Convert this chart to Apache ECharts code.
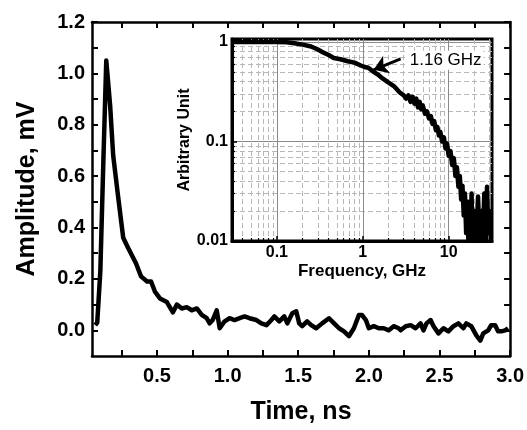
<!DOCTYPE html>
<html><head><meta charset="utf-8">
<script src="https://cdn.jsdelivr.net/npm/echarts@6/dist/echarts.min.js"></script>
<style>html,body{margin:0;padding:0;background:#fff}#c{width:527px;height:430px}</style>
</head><body><div id="c"></div>
<script>
// ---- main trace: time (ns) vs amplitude (mV)
const timeNs = [0.063,0.077,0.099,0.120,0.141,0.169,0.190,0.225,0.261,0.296,0.324,0.352,0.387,0.430,0.458,0.486,0.521,0.570,0.613,0.641,0.676,0.711,0.746,0.782,0.817,0.852,0.873,0.894,0.923,0.944,0.979,1.014,1.049,1.085,1.120,1.155,1.204,1.239,1.275,1.310,1.331,1.366,1.401,1.423,1.458,1.486,1.507,1.528,1.563,1.592,1.627,1.669,1.718,1.754,1.789,1.824,1.859,1.894,1.930,1.951,1.979,2.000,2.035,2.070,2.106,2.141,2.176,2.211,2.225,2.261,2.296,2.331,2.366,2.387,2.408,2.437,2.458,2.493,2.528,2.563,2.599,2.634,2.669,2.690,2.725,2.761,2.789,2.810,2.845,2.866,2.894,2.915,2.937,2.965,2.986];
const amplitude = [0.02,0.03,0.23,0.65,1.05,0.87,0.68,0.52,0.36,0.32,0.29,0.26,0.21,0.19,0.19,0.15,0.124,0.11,0.07,0.10,0.085,0.09,0.078,0.085,0.06,0.047,0.027,0.04,0.078,0.008,0.035,0.047,0.04,0.047,0.054,0.047,0.04,0.027,0.02,0.04,0.054,0.035,0.054,0.027,0.066,0.074,0.027,0.016,0.035,0.02,0.008,0.027,0.047,0.027,0.008,-0.004,-0.023,0.008,0.06,0.06,0.04,0.008,0.016,0.008,0.008,0.0,0.016,0.008,0.0,0.016,0.02,0.008,0.027,0.0,0.027,0.04,0.016,-0.012,0.008,-0.004,0.016,0.027,0.008,0.027,0.016,-0.02,-0.04,-0.012,0.0,0.02,0.02,-0.004,-0.004,0.0,0.008];
const timeLabelValues = [0.5,1.0,1.5,2.0,2.5,3.0];
const timeTickValues = [0.25,0.5,0.75,1.0,1.25,1.5,1.75,2.0,2.25,2.5,2.75,3.0];
const ampLabelValues = [0.0,0.2,0.4,0.6,0.8,1.0,1.2];
const ampTickValues = [0.0,0.1,0.2,0.3,0.4,0.5,0.6,0.7,0.8,0.9,1.0,1.1,1.2];

// ---- inset: frequency (GHz) vs normalised spectrum
const freqGHz = [0.03,0.05,0.08,0.1,0.13,0.16,0.2,0.25,0.3,0.35,0.4,0.46,0.55,0.67,0.8,0.95,1.05,1.16,1.3,1.5,1.7,2.0,2.3,2.7,3.0,3.2,3.4,3.6,3.8,4.0,4.2,4.4,4.6,4.8,5.0,5.3,5.6,5.9,6.2,6.5,6.8,7.1,7.4,7.7,8.0,8.4,8.8,9.2,9.6,10,10.5,11,11.5,12,12.5,13,13.5,14,14.5,15,15.5,16,16.5,17,17.5,18,18.5,19,20,21,22,23,24,25,26,27,28,29,30,31];
const spectrum = [1.0,1.0,1.0,1.0,0.99,0.97,0.94,0.9,0.84,0.78,0.74,0.69,0.67,0.64,0.62,0.58,0.56,0.55,0.51,0.47,0.43,0.39,0.36,0.31,0.29,0.27,0.29,0.25,0.28,0.24,0.27,0.22,0.25,0.21,0.23,0.19,0.2,0.17,0.18,0.15,0.16,0.13,0.14,0.115,0.125,0.1,0.11,0.085,0.095,0.072,0.08,0.058,0.068,0.045,0.055,0.035,0.045,0.026,0.036,0.018,0.03,0.012,0.025,0.01,0.022,0.01,0.03,0.01,0.02,0.01,0.028,0.01,0.02,0.01,0.03,0.01,0.035,0.012,0.02,0.01];
const freqMajor = [0.1,1,10];
const freqMinor = [0.03,0.04,0.05,0.06,0.07,0.08,0.09,0.2,0.3,0.4,0.5,0.6,0.7,0.8,0.9,2,3,4,5,6,7,8,9,20,30];
const specMajor = [0.01,0.1,1];
const specMinor = [0.02,0.03,0.04,0.05,0.06,0.07,0.08,0.09,0.2,0.3,0.4,0.5,0.6,0.7,0.8,0.9];
const annotationText = '1.16 GHz';
const arrowTail = [2.76,0.676];
const arrowTip = [1.34,0.525];
const annotationAnchor = [3.3,0.656];

const FONT = '"Liberation Sans", Arial, sans-serif';
const bold = (size) => ({fontFamily: FONT, fontWeight: 'bold', fontSize: size, color: '#000'});
const logFmt = v => v >= 1 ? String(Math.round(v)) : String(+Number(v).toPrecision(2));

const chart = echarts.init(document.getElementById('c'), null, {renderer: 'canvas'});
chart.setOption({
  animation: false,
  backgroundColor: '#fff',
  grid: [
    {left: 92, top: 22, right: 15, bottom: 73, show: false},
    {left: 232, top: 39, width: 260, height: 202, show: true, backgroundColor: '#fff', borderColor: '#000', borderWidth: 3}
  ],
  xAxis: [
    {gridIndex: 0, type: 'value', position: 'bottom', min: 0.04, max: 3.0,
     axisLine: {show: true, onZero: false, lineStyle: {color: '#000', width: 2.5}},
     axisTick: {show: true, inside: true, length: 6, customValues: timeTickValues, lineStyle: {color: '#000', width: 2}},
     axisLabel: {customValues: timeLabelValues, formatter: v => Number(v).toFixed(1), margin: 10, ...bold(20)},
     splitLine: {show: false},
     name: 'Time, ns', nameLocation: 'middle', nameGap: 44, nameTextStyle: bold(25)},
    {gridIndex: 0, type: 'value', position: 'top', min: 0.04, max: 3.0,
     axisLine: {show: true, onZero: false, lineStyle: {color: '#000', width: 2.5}},
     axisTick: {show: true, inside: true, length: 6, customValues: timeTickValues, lineStyle: {color: '#000', width: 2}},
     axisLabel: {show: false}, splitLine: {show: false}},
    {gridIndex: 1, type: 'log', position: 'bottom', min: 0.03, max: 32,
     axisLine: {show: true, onZero: false, lineStyle: {color: '#000', width: 3}},
     axisTick: {show: true, inside: true, length: 5, customValues: freqMajor, lineStyle: {color: '#000', width: 1.5}},
     axisLabel: {customValues: freqMajor, formatter: logFmt, margin: 4, ...bold(16)},
     splitLine: {show: true, lineStyle: {color: '#8a8a8a', width: 1, type: 'solid'}},
     name: 'Frequency, GHz', nameLocation: 'middle', nameGap: 22, nameTextStyle: bold(17)},
    {gridIndex: 1, type: 'log', position: 'bottom', min: 0.03, max: 32,
     axisLine: {show: false},
     axisTick: {show: true, inside: true, length: 3, customValues: freqMinor, lineStyle: {color: '#000', width: 1.2}},
     axisLabel: {show: false},
     splitLine: {show: true, lineStyle: {color: '#b8b8b8', width: 1, type: [5, 3]}}}
  ],
  yAxis: [
    {gridIndex: 0, type: 'value', position: 'left', min: -0.1, max: 1.2,
     axisLine: {show: true, onZero: false, lineStyle: {color: '#000', width: 2.5}},
     axisTick: {show: true, inside: true, length: 6, customValues: ampTickValues, lineStyle: {color: '#000', width: 2}},
     axisLabel: {customValues: ampLabelValues, formatter: v => Number(v).toFixed(1), margin: 7, ...bold(20)},
     splitLine: {show: false},
     name: 'Amplitude, mV', nameLocation: 'middle', nameGap: 52, nameRotate: 90, nameTextStyle: bold(25)},
    {gridIndex: 0, type: 'value', position: 'right', min: -0.1, max: 1.2,
     axisLine: {show: true, onZero: false, lineStyle: {color: '#000', width: 2.5}},
     axisTick: {show: true, inside: true, length: 6, customValues: ampTickValues, lineStyle: {color: '#000', width: 2}},
     axisLabel: {show: false}, splitLine: {show: false}},
    {gridIndex: 1, type: 'log', position: 'left', min: 0.01, max: 1.07,
     axisLine: {show: true, onZero: false, lineStyle: {color: '#000', width: 3}},
     axisTick: {show: true, inside: true, length: 5, customValues: specMajor, lineStyle: {color: '#000', width: 1.5}},
     axisLabel: {customValues: specMajor, formatter: logFmt, margin: 4, ...bold(16)},
     splitLine: {show: true, lineStyle: {color: '#8a8a8a', width: 1, type: 'solid'}},
     name: 'Arbitrary Unit', nameLocation: 'middle', nameGap: 38, nameRotate: 90, nameTextStyle: bold(16)},
    {gridIndex: 1, type: 'log', position: 'left', min: 0.01, max: 1.07,
     axisLine: {show: false},
     axisTick: {show: true, inside: true, length: 3, customValues: specMinor, lineStyle: {color: '#000', width: 1.2}},
     axisLabel: {show: false},
     splitLine: {show: true, lineStyle: {color: '#b8b8b8', width: 1, type: [5, 3]}}}
  ],
  series: [
    {type: 'line', xAxisIndex: 0, yAxisIndex: 0, showSymbol: false, symbol: 'none',
     lineStyle: {color: '#000', width: 4.5, join: 'round'},
     data: timeNs.map((t, i) => [t, amplitude[i]])},
    {type: 'line', xAxisIndex: 2, yAxisIndex: 2, showSymbol: false, symbol: 'none', clip: true,
     lineStyle: {color: '#000', width: 4.5, join: 'round'},
     data: freqGHz.map((f, i) => [f, spectrum[i]]),
     markLine: {silent: true, symbol: ['none', 'arrow'], symbolSize: 14,
       lineStyle: {color: '#000', width: 3, type: 'solid'}, label: {show: false},
       data: [[{coord: arrowTail}, {coord: arrowTip}]]},
     markPoint: {silent: true, symbol: 'rect', symbolSize: 1, itemStyle: {color: 'rgba(0,0,0,0)'},
       data: [{coord: annotationAnchor, label: {show: true, position: 'right', distance: 0, formatter: annotationText,
         fontFamily: FONT, fontSize: 17, color: '#000', backgroundColor: '#fff', padding: [1, 2]}}]}}
  ]
});
</script></body></html>
